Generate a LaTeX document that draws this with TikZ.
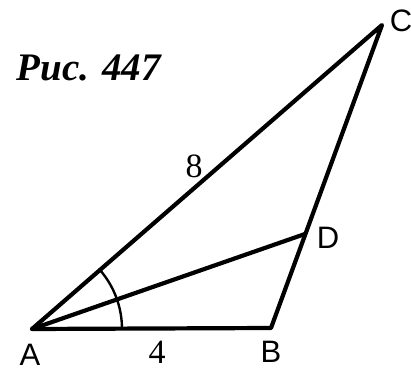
\documentclass[tikz,border=0pt]{standalone}
\usepackage{fontspec}
\setmainfont{Liberation Serif}
\newfontfamily\lettersfont{Liberation Sans}
\usetikzlibrary{positioning}

\begin{document}
\begin{tikzpicture}[x=1pt,y=1pt,
  side/.style={line width=4.2pt, line cap=round, line join=round},
  vlabel/.style={font=\lettersfont\fontsize{31}{31}\selectfont, inner sep=1pt},
  numlabel/.style={font=\fontsize{34}{34}\selectfont, inner sep=1pt}]
\useasboundingbox (0,0) rectangle (411,371);
\coordinate (A) at (32,42);
\coordinate (B) at (271,43);
\coordinate (C) at (382,346);
\coordinate (D) at (305,137);
\draw[side] (A) -- (B) -- (C) -- cycle;
\draw[side] (A) -- (D);
\draw[line width=2.4pt] (A) ++(90,0) arc (0:41:90);
\node[vlabel] (lA) at (30,16) {A};
\node[vlabel] (lB) at (271,19) {B};
\node[vlabel] (lC) at (401,350) {C};
\node[vlabel] (lD) at (328,133) {D};
\node[numlabel] (l4) at (157,19) {4};
\node[numlabel] (l8) at (194,205) {8};
\node[font=\bfseries\itshape\fontsize{39}{39}\selectfont, anchor=west] (title) at (13,303) {Рис. 447};
\end{tikzpicture}
\end{document}
